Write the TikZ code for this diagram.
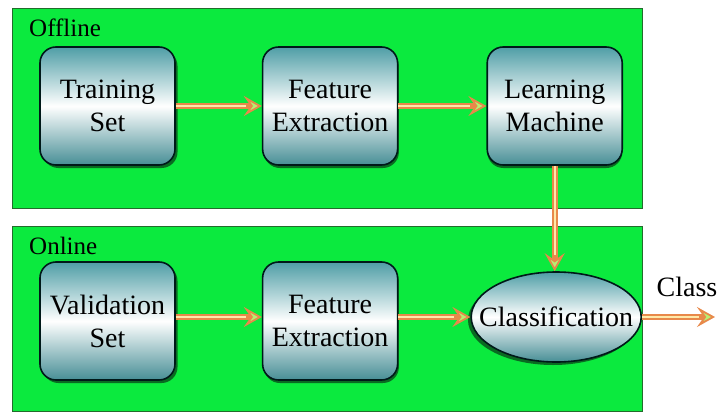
\documentclass[tikz,border=0pt]{standalone}
\usepackage{fontspec}
\newfontfamily\diagfont{Liberation Serif}
\usetikzlibrary{arrows.meta,positioning,shapes.geometric}
\definecolor{panelgreen}{HTML}{0BEA3E}
\definecolor{paneledge}{HTML}{236B2C}
\definecolor{shadowgreen}{HTML}{0A6A22}
\definecolor{tealshade}{HTML}{4F9EA6}
\definecolor{flowedge}{HTML}{E8894A}
\definecolor{flowcore}{HTML}{FFE9A8}
\definecolor{tipfill}{HTML}{B9EE72}

\begin{document}
\begin{tikzpicture}[
    x=1pt, y=1pt,
    font=\fontsize{28}{33}\selectfont,
    execute at begin node=\diagfont,
    panel/.style={
        draw=paneledge,
        fill=panelgreen,
        line width=1.2pt,
        anchor=north west,
        inner sep=0pt
    },
    panellabel/.style={
        font=\fontsize{25}{30}\selectfont,
        anchor=north west,
        inner sep=0pt
    },
    block/.style={
        draw=black!80!teal,
        line width=1.6pt,
        rounded corners=16pt,
        top color=tealshade,
        bottom color=tealshade!90!black,
        middle color=white,
        minimum width=135pt,
        minimum height=118pt,
        align=center,
        inner sep=2pt
    },
    blockshadow/.style={
        fill=shadowgreen,
        rounded corners=16pt,
        minimum width=135pt,
        minimum height=118pt
    },
    decision/.style={
        ellipse,
        draw=black!80!teal,
        line width=1.6pt,
        top color=tealshade,
        bottom color=tealshade!90!black,
        middle color=white,
        minimum width=170pt,
        minimum height=90pt,
        inner xsep=-20pt,
        inner ysep=0pt
    },
    flow/.style={
        draw=flowedge,
        line width=6pt,
        -{Stealth[length=18pt, width=20pt, inset=7pt, color=flowedge, fill=tipfill, line width=1.8pt]},
        postaction={draw=flowcore, line width=2.2pt, shorten >=16pt, -}
    }
]
\useasboundingbox (0,0) rectangle (717,-412);
% panels
\node[panel, minimum width=630pt, minimum height=200pt] (offline) at (12,-8) {};
\node[panel, minimum width=630pt, minimum height=185pt] (online) at (12,-226) {};
\node[panellabel] (offlinelbl) at ([xshift=17pt, yshift=-11pt]offline.north west) {Offline};
\node[panellabel] (onlinelbl) at ([xshift=17pt, yshift=-11pt]online.north west) {Online};
% shadows
\node[blockshadow] (trainsh) at (110,-109) {};
\node[blockshadow, right=86pt of trainsh] (feat1sh) {};
\node[blockshadow, right=88pt of feat1sh] (learnsh) {};
\node[blockshadow] (validsh) at (110,-324) {};
\node[blockshadow, right=86pt of validsh] (feat2sh) {};
\node[ellipse, fill=shadowgreen, minimum width=170pt, minimum height=90pt, inner sep=0pt] (classifysh) at (553,-320) {};
% offline row
\node[block] (train) at (107.5,-106) {Training\\Set};
\node[block, right=86pt of train] (feat1) {Feature\\Extraction};
\node[block, right=88pt of feat1] (learn) {Learning\\Machine};
% online row
\node[block] (valid) at (107.5,-321) {Validation\\Set};
\node[block, right=86pt of valid] (feat2) {Feature\\Extraction};
\node[decision, right=72pt of feat2, yshift=4pt] (classify) {Classification};
\coordinate[right=73pt of classify.east] (out);
\node[anchor=base, inner sep=0pt] (classlbl) at (687,-296) {Class};
% connectors
\draw[flow] (train) -- (feat1);
\draw[flow] (feat1) -- (learn);
\draw[flow] (learn.south) -- (learn.south |- classify.north);
\draw[flow] (valid.east |- classify.west) -- (feat2.west |- classify.west);
\draw[flow] (feat2.east |- classify.west) -- (classify.west);
\draw[flow] (classify.east) -- (out);
\end{tikzpicture}
\end{document}
